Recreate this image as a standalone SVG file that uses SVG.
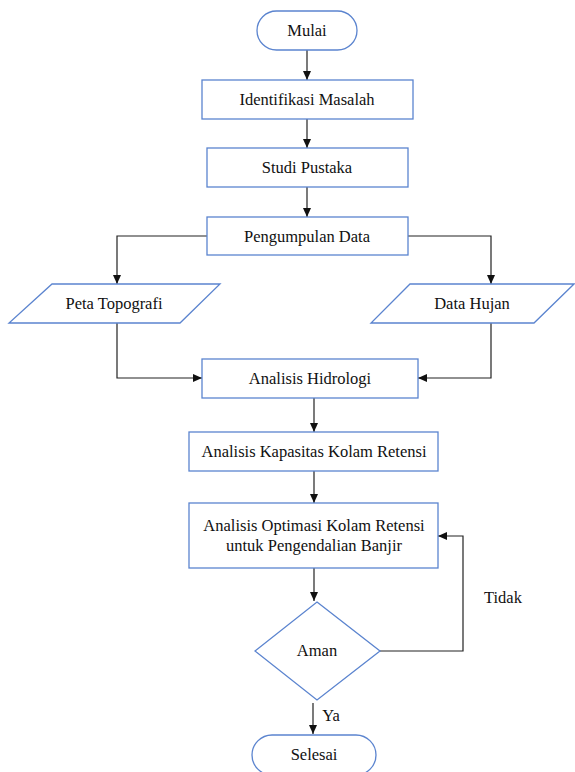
<svg xmlns="http://www.w3.org/2000/svg" width="575" height="772" viewBox="0 0 575 772">
<defs>
<marker id="ah" markerWidth="10" markerHeight="10" refX="9" refY="5" orient="auto" markerUnits="userSpaceOnUse">
<path d="M0,1 L9,5 L0,9 z" fill="#111"/>
</marker>
<style>
.n{fill:#fff;stroke:#5b84cf;stroke-width:1.3}
.t{font-family:"Liberation Serif","Times New Roman",serif;font-size:16.5px;fill:#111;text-anchor:middle}
.c{fill:none;stroke:#222;stroke-width:1.2;marker-end:url(#ah)}
</style>
</defs>
<rect width="575" height="772" fill="#fff"/>
<g id="connectors">
<path class="c" d="M307,50 V80"/>
<path class="c" d="M307,119 V148"/>
<path class="c" d="M307,187 V217"/>
<path class="c" d="M207,236 H117 V284"/>
<path class="c" d="M408,236 H491 V284"/>
<path class="c" d="M117,323 V378 H202"/>
<path class="c" d="M491,323 V378 H418"/>
<path class="c" d="M314,398 V432"/>
<path class="c" d="M314,471 V503"/>
<path class="c" d="M314,568 V601"/>
<path class="c" d="M380,651 H463 V536 H438"/>
<path class="c" d="M313,703 V734"/>
<text class="t" x="503" y="603">Tidak</text>
<text class="t" x="331" y="721">Ya</text>
</g>
<g id="mulai"><rect class="n" x="257" y="11" width="100" height="39" rx="19.5"/><text class="t" x="307" y="36">Mulai</text></g>
<g id="identifikasi"><rect class="n" x="202" y="80" width="211" height="39"/><text class="t" x="307" y="105">Identifikasi Masalah</text></g>
<g id="studi"><rect class="n" x="207" y="148" width="201" height="39"/><text class="t" x="307" y="173">Studi Pustaka</text></g>
<g id="pengumpulan"><rect class="n" x="207" y="217" width="201" height="38"/><text class="t" x="307" y="242">Pengumpulan Data</text></g>
<g id="peta"><polygon class="n" points="52,284 220,284 180,323 9,323"/><text class="t" x="114" y="309">Peta Topografi</text></g>
<g id="hujan"><polygon class="n" points="410,284 574,284 534,323 371,323"/><text class="t" x="472" y="309">Data Hujan</text></g>
<g id="hidrologi"><rect class="n" x="202" y="359" width="216" height="39"/><text class="t" x="310" y="384">Analisis Hidrologi</text></g>
<g id="kapasitas"><rect class="n" x="189" y="432" width="249" height="39"/><text class="t" x="314" y="457">Analisis Kapasitas Kolam Retensi</text></g>
<g id="optimasi"><rect class="n" x="189" y="503" width="249" height="65"/><text class="t" x="314" y="531">Analisis Optimasi Kolam Retensi</text><text class="t" x="314" y="551">untuk Pengendalian Banjir</text></g>
<g id="aman"><polygon class="n" points="317,602 380,651 317,700 255,651"/><text class="t" x="317" y="656">Aman</text></g>
<g id="selesai"><rect class="n" x="252" y="735" width="124" height="40" rx="20"/><text class="t" x="314" y="760">Selesai</text></g>
</svg>
